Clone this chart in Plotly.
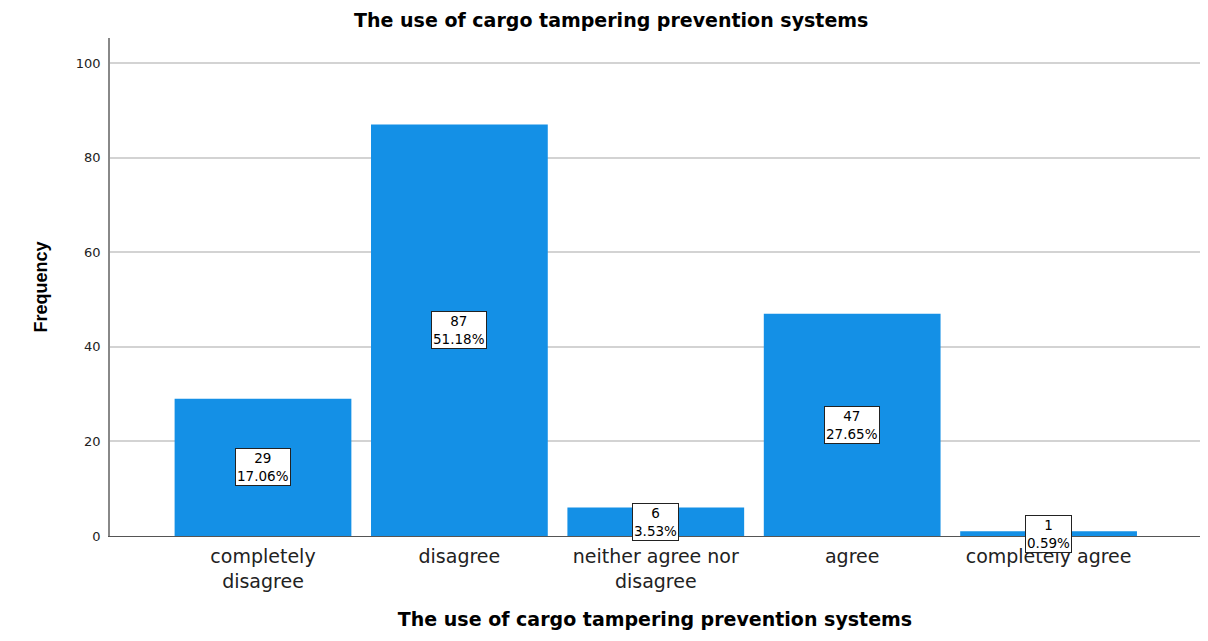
import plotly.graph_objects as go

categories = ["completely<br>disagree", "disagree", "neither agree nor<br>disagree", "agree", "completely agree"]
counts = [29, 87, 6, 47, 1]
percents = ["17.06%", "51.18%", "3.53%", "27.65%", "0.59%"]
y_ticks = [0, 20, 40, 60, 80, 100]

xpos = list(range(len(categories)))
WIDE = "DejaVu Sans, Liberation Sans, Arial"

fig = go.Figure()
fig.add_trace(go.Bar(
    x=xpos, y=counts, width=0.9,
    marker=dict(color="#1490E6", line=dict(width=0)),
    hoverinfo="skip",
))

for xi, c, p in zip(xpos, counts, percents):
    fig.add_annotation(
        x=xi, y=c / 2, xref="x", yref="y",
        text=f"{c}<br>{p}", showarrow=False,
        font=dict(family=WIDE, size=13.5, color="#000"),
        bgcolor="white", bordercolor="#222", borderwidth=1, borderpad=1,
    )

fig.update_layout(
    width=1208, height=641,
    margin=dict(l=110, r=8, t=38, b=105),
    plot_bgcolor="white", paper_bgcolor="white",
    showlegend=False,
    bargap=0.1,
    font=dict(family=WIDE, color="#000"),
    title=dict(text="<b>The use of cargo tampering prevention systems</b>",
               x=0.506, xanchor="center", y=0.968, yanchor="middle",
               font=dict(family=WIDE, size=19, color="#000")),
)

fig.update_xaxes(
    range=[-0.779, 4.771],
    tickmode="array", tickvals=xpos, ticktext=categories,
    tickfont=dict(family=WIDE, size=19, color="#222"),
    showgrid=False, showline=True, linecolor="#555", linewidth=1,
    ticks="outside", ticklen=3, tickcolor="rgba(0,0,0,0)",
    title=dict(text="<b>The use of cargo tampering prevention systems</b>",
               font=dict(family=WIDE, size=19, color="#000"), standoff=22),
    zeroline=False,
)
fig.update_yaxes(
    range=[0, 105.3],
    tickmode="array", tickvals=y_ticks,
    tickfont=dict(family=WIDE, size=13, color="#222"),
    showgrid=True, gridcolor="#D3D3D3", gridwidth=1.6,
    showline=True, linecolor="#888", linewidth=1.5,
    ticks="outside", ticklen=5, tickcolor="rgba(0,0,0,0)",
    title=dict(text="<b>Frequency</b>",
               font=dict(family="Liberation Sans, Arial", size=18, color="#000"), standoff=24),
    zeroline=False,
)

fig.write_html("out.html")
